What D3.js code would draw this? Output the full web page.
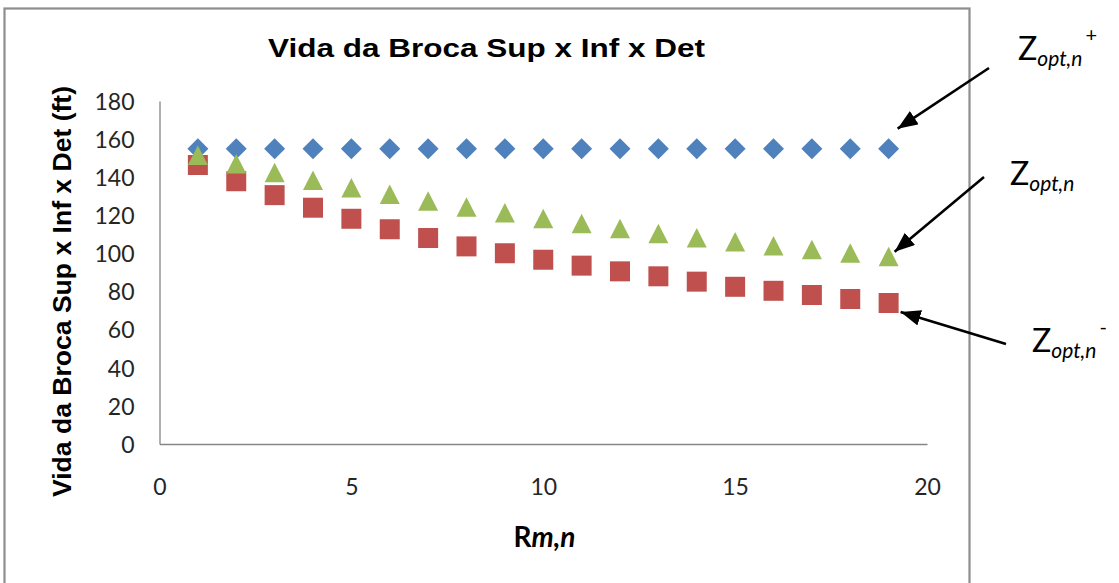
<!DOCTYPE html>
<html><head><meta charset="utf-8">
<script src="https://cdn.jsdelivr.net/npm/d3@7"></script>
<style>body{margin:0;background:#fff}</style></head>
<body><svg id="c" width="1119" height="583"></svg>
<script>
// ---- data ----
const rValues = [1,2,3,4,5,6,7,8,9,10,11,12,13,14,15,16,17,18,19];
const zOptPlus  = [155,155,155,155,155,155,155,155,155,155,155,155,155,155,155,155,155,155,155];
const zOptMinus = [146.4,137.9,130.6,124.0,118.2,112.7,108.1,103.7,100.1,96.7,93.6,90.6,88.0,85.2,82.5,80.4,78.2,76.1,74.0];
const zOpt      = [151.4,146.9,142.3,138.3,134.4,130.9,127.4,124.2,121.2,118.2,115.6,113.0,110.4,108.1,106.0,103.9,102.0,100.1,98.3];
const xTicks = [0,5,10,15,20];
const yTicks = [0,20,40,60,80,100,120,140,160,180];
const chartTitle = "Vida da Broca Sup x Inf x Det";
const yTitle = "Vida da Broca Sup x Inf x Det (ft)";

const svg = d3.select("#c");
const x = d3.scaleLinear().domain([0,20]).range([159.5,927]);
const y = d3.scaleLinear().domain([0,180]).range([444,101]);

// chart border
svg.append("rect").attr("x",4.5).attr("y",8.5).attr("width",965).attr("height",620)
  .attr("fill","none").attr("stroke","#8e8e8e").attr("stroke-width",2.2);

// title
svg.append("text").attr("x",486.5).attr("y",57).attr("text-anchor","middle")
  .attr("font-family","Liberation Sans, Arial, sans-serif").attr("font-weight","bold")
  .attr("font-size",26).attr("textLength",437).attr("lengthAdjust","spacingAndGlyphs")
  .attr("fill","#000").text(chartTitle);

// axes
const axisColor = "#868686";
const gy = svg.append("g").attr("transform","translate(159.5,0)")
  .call(d3.axisLeft(y).tickValues(yTicks).tickSize(0).tickSizeOuter(0).tickPadding(25).tickFormat(d3.format("d")));
const gx = svg.append("g").attr("transform","translate(0,444)")
  .call(d3.axisBottom(x).tickValues(xTicks).tickSize(0).tickSizeOuter(0).tickFormat(d3.format("d")));
[gy,gx].forEach(g=>{
  g.select(".domain").attr("stroke",axisColor).attr("stroke-width",1.3);
  g.selectAll("text").attr("font-family","Lato, sans-serif").attr("font-size",23).attr("fill","#262626");
});
gx.selectAll("text").attr("y",51).attr("dy",null);
gy.selectAll("text").attr("dy","0.36em");

// axis titles
svg.append("text").attr("transform","translate(71,291.5) rotate(-90)").attr("text-anchor","middle")
  .attr("font-family","Liberation Sans, Arial, sans-serif").attr("font-weight","bold")
  .attr("font-size",26.5).attr("textLength",411).attr("lengthAdjust","spacingAndGlyphs")
  .attr("fill","#000").text(yTitle);
const xt = svg.append("text").attr("x",544.5).attr("y",547).attr("text-anchor","middle")
  .attr("font-family","Lato, sans-serif").attr("font-weight","bold").attr("font-size",28).attr("fill","#000");
xt.append("tspan").text("R");
xt.append("tspan").attr("font-style","italic").text("m,n");

// series
const series = [
  {name:"plus", values:zOptPlus, color:"#4F81BD", shape:"diamond"},
  {name:"minus", values:zOptMinus, color:"#C0504D", shape:"square"},
  {name:"opt", values:zOpt, color:"#9BBB59", shape:"triangle"}
];
function shapePath(s){
  if(s==="diamond") return "M0,-10.5L10.5,0L0,10.5L-10.5,0Z";
  if(s==="square") return "M-10,-10H10V10H-10Z";
  return "M0,-10L10,9.5H-10Z";
}
series.forEach(s=>{
  svg.append("g").selectAll("path").data(rValues.map((r,i)=>({r,v:s.values[i]})))
    .join("path").attr("d",shapePath(s.shape))
    .attr("transform",d=>`translate(${x(d.r)},${y(d.v)})`)
    .attr("fill",s.color);
});

// annotations
const defs = svg.append("defs");
defs.append("marker").attr("id","ah").attr("markerUnits","userSpaceOnUse")
  .attr("markerWidth",24).attr("markerHeight",18).attr("refX",20).attr("refY",8)
  .attr("orient","auto").append("path").attr("d","M0,0L20,8L0,16Z").attr("fill","#000");

const annotations = [
  {series:zOptPlus, tail:[989,68], off:[9,-20], label:{x:1018,y:60}, sup:"+"},
  {series:zOpt, tail:[984,177], off:[6,-5], label:{x:1010,y:185}, sup:null},
  {series:zOptMinus, tail:[1006,344], off:[12,9], label:{x:1032,y:352}, sup:"-"}
];
annotations.forEach(a=>{
  const last = rValues.length-1;
  const tx = x(rValues[last])+a.off[0], ty = y(a.series[last])+a.off[1];
  svg.append("line").attr("x1",a.tail[0]).attr("y1",a.tail[1]).attr("x2",tx).attr("y2",ty)
    .attr("stroke","#000").attr("stroke-width",2.6).attr("marker-end","url(#ah)");
  const t = svg.append("text").attr("x",a.label.x).attr("y",a.label.y)
    .attr("font-family","Lato, sans-serif").attr("font-size",32).attr("fill","#000");
  t.append("tspan").text("Z");
  t.append("tspan").attr("font-size",21).attr("font-style","italic").attr("dy",6).text("opt,n");
  if(a.sup) t.append("tspan").attr("font-size",20).attr("dx",3).attr("dy",-24).text(a.sup);
});
</script></body></html>
